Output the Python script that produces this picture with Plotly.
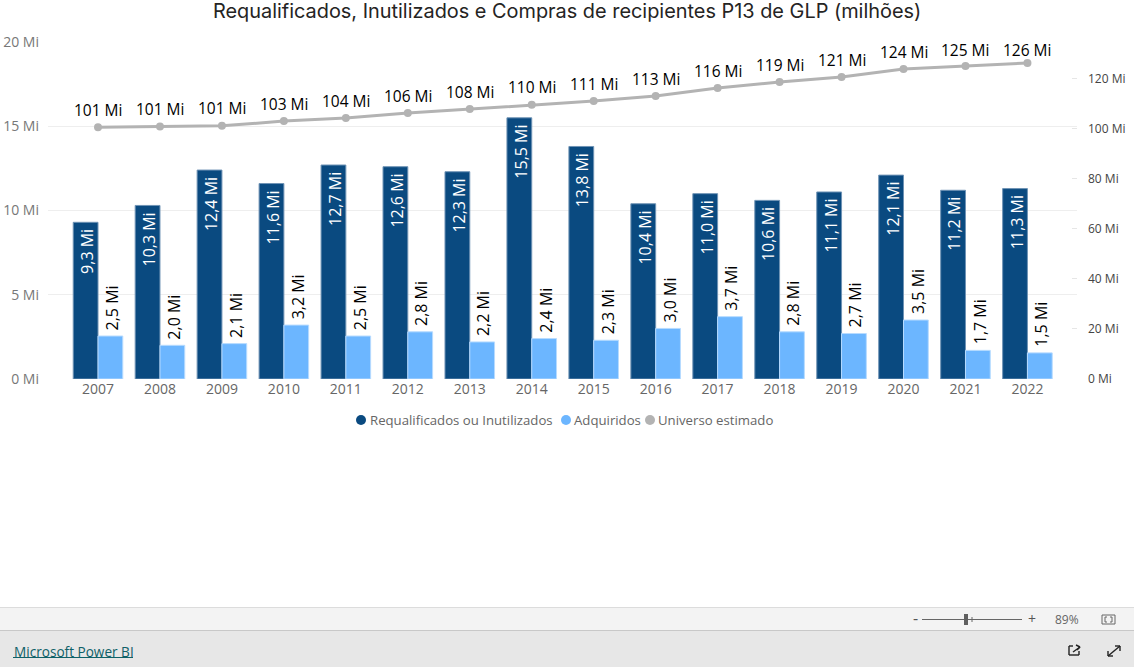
import plotly.graph_objects as go

years = [str(y) for y in range(2007, 2023)]
requalificados = [9.3, 10.3, 12.4, 11.6, 12.7, 12.6, 12.3, 15.5, 13.8, 10.4, 11.0, 10.6, 11.1, 12.1, 11.2, 11.3]
adquiridos = [2.55, 2.0, 2.1, 3.2, 2.55, 2.8, 2.2, 2.4, 2.3, 3.0, 3.7, 2.8, 2.7, 3.5, 1.7, 1.55]
universo = [100.6, 100.9, 101.1, 103.0, 104.2, 106.2, 107.8, 109.5, 111.0, 113.0, 116.2, 118.6, 120.6, 123.8, 125.0, 126.2]
requal_labels = ["9,3 Mi", "10,3 Mi", "12,4 Mi", "11,6 Mi", "12,7 Mi", "12,6 Mi", "12,3 Mi", "15,5 Mi", "13,8 Mi", "10,4 Mi", "11,0 Mi", "10,6 Mi", "11,1 Mi", "12,1 Mi", "11,2 Mi", "11,3 Mi"]
adq_labels = ["2,5 Mi", "2,0 Mi", "2,1 Mi", "3,2 Mi", "2,5 Mi", "2,8 Mi", "2,2 Mi", "2,4 Mi", "2,3 Mi", "3,0 Mi", "3,7 Mi", "2,8 Mi", "2,7 Mi", "3,5 Mi", "1,7 Mi", "1,5 Mi"]
univ_labels = ["101 Mi", "101 Mi", "101 Mi", "103 Mi", "104 Mi", "106 Mi", "108 Mi", "110 Mi", "111 Mi", "113 Mi", "116 Mi", "119 Mi", "121 Mi", "124 Mi", "125 Mi", "126 Mi"]
legend_items = [("Requalificados ou Inutilizados", "#0a4a80", 361, 369), ("Adquiridos", "#6cb6ff", 566, 573), ("Universo estimado", "#b3b3b3", 650, 657)]

FONT = "Open Sans"
DARK, LIGHT, GREY = "#0a4a80", "#6cb6ff", "#b3b3b3"
W, H = 1134, 667
L, R, T, B = 48, 1077, 42, 379
Y2MAX = 134.6

def px(x):
    return (x - L) / (R - L)

def py(y):
    return (B - y) / (B - T)

fig = go.Figure()
fig.add_bar(x=years, y=requalificados, marker=dict(color=DARK, line=dict(color="#6f93b5", width=1)),
            name="Requalificados ou Inutilizados", showlegend=False, offsetgroup="a")
fig.add_bar(x=years, y=adquiridos, marker=dict(color=LIGHT, line=dict(color="#b7dbff", width=1)),
            name="Adquiridos", showlegend=False, offsetgroup="b")
fig.add_scatter(x=years, y=universo, yaxis="y2", mode="lines+markers", line=dict(color=GREY, width=3),
                marker=dict(color=GREY, size=8), name="Universo estimado", showlegend=False, cliponaxis=False)

shapes = []
def rect(x0, y0, x1, y1, fill, line=None):
    shapes.append(dict(type="rect", xref="paper", yref="paper", x0=px(x0), x1=px(x1), y0=py(y0), y1=py(y1),
                       fillcolor=fill, line=dict(width=0) if line is None else dict(color=line, width=1)))
def seg(x0, y0, x1, y1, color, width=1):
    shapes.append(dict(type="line", xref="paper", yref="paper", x0=px(x0), x1=px(x1), y0=py(y0), y1=py(y1),
                       line=dict(color=color, width=width)))

rect(0, 607, W, 630, "#f3f3f3")
rect(0, 630, W, H + 1, "#e7e7e7")
seg(0, 607.5, W, 607.5, "#dcdcdc")
seg(0, 630.5, W, 630.5, "#c8c8c8")
seg(922, 619.5, 1022, 619.5, "#666666")
seg(972, 617, 972, 622, "#666666")
rect(964, 614, 968, 625, "#5f5f5f")
rect(1102, 615, 1115, 624, "rgba(0,0,0,0)", "#666666")
for x0, x1 in [(1105, 1107), (1112, 1110)]:
    seg(x0, 617, x0, 622, "#666666"); seg(x0, 617, x1, 617, "#666666"); seg(x0, 622, x1, 622, "#666666")
seg(13, 657.5, 133, 657.5, "#0f6168")
INK = "#222222"
for s in [(1069, 646, 1069, 655), (1069, 655, 1079, 655), (1079, 655, 1079, 651), (1069, 646, 1073, 646),
          (1073, 652, 1080, 647), (1076, 645, 1080, 647), (1080, 647, 1077, 650),
          (1108, 656, 1120, 646), (1108, 656, 1108, 651), (1108, 656, 1113, 656), (1120, 646, 1115, 646), (1120, 646, 1120, 651)]:
    seg(*s, INK, 1.4)

def note(text, x, y, size, color, anchor="center", family=FONT):
    return dict(text=text, x=px(x), y=py(y), xref="paper", yref="paper", xanchor=anchor, yanchor="middle",
                showarrow=False, font=dict(size=size, color=color, family=family))

annotations = [
    note("Requalificados, Inutilizados e Compras de recipientes P13 de GLP (milhões)", 567, 11, 19.9, "#252423", family="Inter"),
    note("-", 915, 618, 16, "#555555"),
    note("+", 1032, 618, 14, "#555555"),
    note("89%", 1067, 619, 12, "#666666"),
    note("Microsoft Power BI", 12, 651, 13.6, "#0f6168", anchor="left"),
]
for name, color, cx, tx in legend_items:
    shapes.append(dict(type="circle", xref="paper", yref="paper", x0=px(cx - 5), x1=px(cx + 5), y0=py(425), y1=py(415),
                       fillcolor=color, line=dict(width=0)))
    annotations.append(note(name, tx - 1, 420, 13.2, "#666666", anchor="left"))

for i, (v, t) in enumerate(zip(requalificados, requal_labels)):
    annotations.append(dict(x=i - 0.2, y=v, xref="x", yref="y", text=t, textangle=-90, showarrow=False, xshift=1.5, yshift=-5,
                            yanchor="top", xanchor="center", font=dict(size=16, color="white", family=FONT)))
for i, (v, t) in enumerate(zip(adquiridos, adq_labels)):
    annotations.append(dict(x=i + 0.2, y=v, xref="x", yref="y", text=t, textangle=-90, showarrow=False, xshift=1.5, yshift=4,
                            yanchor="bottom", xanchor="center", font=dict(size=16, color="black", family=FONT)))
for i, (v, t) in enumerate(zip(universo, univ_labels)):
    pixel = B - v / Y2MAX * (B - T)
    annotations.append(dict(x=i, y=v, xref="x", yref="y2", text=t, showarrow=False, yshift=min(17.5, pixel - 50),
                            yanchor="middle", xanchor="center", font=dict(size=15.5, color="black", family=FONT)))

fig.update_layout(
    width=W, height=H, autosize=False, template=None, paper_bgcolor="white", plot_bgcolor="white",
    margin=dict(l=L, r=W - R, t=T, b=H - B, pad=0),
    barmode="group", bargap=0.2, bargroupgap=0, showlegend=False, hovermode=False,
    font=dict(family=FONT, color="#666666"),
    xaxis=dict(type="category", range=[-0.807, 15.8], showgrid=False, zeroline=False, showline=False,
               ticks="", tickfont=dict(size=14, color="#666666")),
    yaxis=dict(range=[0, 20], dtick=5, ticksuffix=" Mi", showgrid=True, gridcolor="#eeeeee", gridwidth=1, zeroline=False,
               showline=False, tickfont=dict(size=14, color="#777777"), ticklabelstandoff=8),
    yaxis2=dict(overlaying="y", side="right", range=[0, Y2MAX], dtick=20, ticksuffix=" Mi", showgrid=False, zeroline=False,
                ticks="inside", ticklen=5, tickcolor="#e6e6e6", showline=False,
                tickfont=dict(size=12, color="#444444"), ticklabelstandoff=10),
    shapes=shapes, annotations=annotations,
)
fig.write_html("out.html", config=dict(displayModeBar=False),
               post_script="document.body.style.margin='0';document.body.style.overflow='hidden';")
